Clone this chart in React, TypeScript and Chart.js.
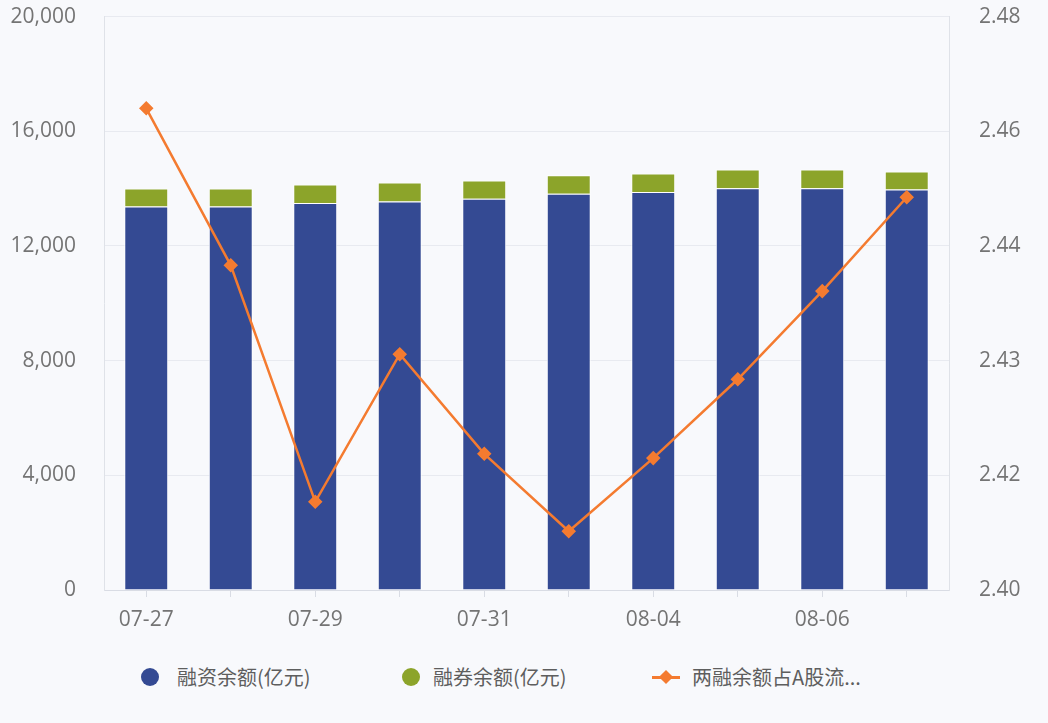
import React, { useEffect, useRef } from "react";
import { Chart, registerables } from "chart.js";

Chart.register(...registerables);

const categories = ["07-27", "07-28", "07-29", "07-30", "07-31", "08-03", "08-04", "08-05", "08-06", "08-07"];
const financing = [13380, 13380, 13495, 13554, 13648, 13822, 13878, 14017, 14017, 13972];
const securities = [627, 627, 651, 662, 638, 648, 652, 652, 652, 627];
const ratio = [2.4672, 2.4453, 2.4123, 2.4329, 2.419, 2.4082, 2.4184, 2.4294, 2.4417, 2.4548];
const rightTickLabels = ["2.40", "2.42", "2.43", "2.44", "2.46", "2.48"];
const seriesNames = ["融资余额(亿元)", "融券余额(亿元)", "两融余额占A股流..."];

const BLUE = "#344a93";
const GREEN = "#8ca42a";
const ORANGE = "#f47b30";
const BG = "#f8f9fc";
const TICK = "#747474";
const FONT = "'Open Sans', 'Noto Sans CJK SC', sans-serif";

export default function App() {
  const ref = useRef<HTMLCanvasElement | null>(null);

  useEffect(() => {
    if (!ref.current) return;
    const chart = new Chart(ref.current, {
      type: "bar",
      data: {
        labels: categories,
        datasets: [
          {
            type: "line",
            label: seriesNames[2],
            data: ratio,
            yAxisID: "y1",
            borderColor: ORANGE,
            backgroundColor: ORANGE,
            borderWidth: 2.5,
            pointStyle: "rectRot",
            pointRadius: 5.5,
            pointBackgroundColor: ORANGE,
            pointBorderColor: ORANGE,
            tension: 0,
            order: 0,
          } as any,
          {
            label: seriesNames[0],
            data: financing,
            backgroundColor: BLUE,
            borderColor: "rgba(255,255,255,0.9)",
            borderWidth: 1,
            yAxisID: "y",
            stack: "s",
            order: 1,
          },
          {
            label: seriesNames[1],
            data: securities,
            backgroundColor: GREEN,
            borderColor: "rgba(255,255,255,0.9)",
            borderWidth: 1,
            yAxisID: "y",
            stack: "s",
            order: 1,
          },
        ],
      },
      options: {
        animation: false,
        responsive: false,
        maintainAspectRatio: false,
        layout: { padding: { top: 0, left: 0, right: 0, bottom: 0 } },
        plugins: {
          legend: { display: false },
          tooltip: { enabled: false },
        },
        datasets: {
          bar: { barPercentage: 0.52, categoryPercentage: 1 },
        },
        scales: {
          x: {
            stacked: true,
            grid: {
              display: true,
              drawOnChartArea: false,
              drawTicks: true,
              tickLength: 7,
              offset: false,
              color: "#d9dce4",
            },
            border: { display: true, color: "#d9dce4" },
            ticks: {
              autoSkip: false,
              maxRotation: 0,
              padding: 10,
              color: TICK,
              font: { family: FONT, size: 21 },
              callback: (_v: any, i: number) => (i % 2 === 0 ? categories[i] : ""),
            },
            afterFit: (s: any) => {
              s.height = 55;
            },
          },
          y: {
            stacked: true,
            min: 0,
            max: 20000,
            position: "left",
            grid: { color: "#e8eaf0", drawTicks: false },
            border: { display: true, color: "#dfe2e8" },
            ticks: {
              stepSize: 4000,
              padding: 28,
              color: TICK,
              font: { family: FONT, size: 21 },
              callback: (v: any) => Number(v).toLocaleString("en-US"),
            },
            afterFit: (s: any) => {
              s.width = 104;
            },
          },
          y1: {
            min: 2.4,
            max: 2.48,
            position: "right",
            grid: { drawOnChartArea: false, drawTicks: false },
            border: { display: true, color: "#dfe2e8" },
            afterBuildTicks: (s: any) => {
              s.ticks = [0, 1, 2, 3, 4, 5].map((i) => ({ value: 2.4 + i * 0.016 }));
            },
            ticks: {
              padding: 30,
              color: TICK,
              font: { family: FONT, size: 21 },
              callback: (_v: any, i: number) => rightTickLabels[i],
            },
            afterFit: (s: any) => {
              s.width = 99;
            },
          },
        },
      } as any,
    });
    return () => chart.destroy();
  }, []);

  const textStyle: React.CSSProperties = {
    position: "absolute",
    top: 664,
    fontFamily: "'Noto Sans CJK SC', sans-serif",
    fontSize: 20,
    lineHeight: "26px",
    color: "#5e5e5e",
    whiteSpace: "nowrap",
  };

  return (
    <div
      style={{
        position: "fixed",
        left: 0,
        top: 0,
        width: 1048,
        height: 723,
        background: BG,
        overflow: "hidden",
      }}
    >
      <canvas ref={ref} width={1048} height={671} style={{ position: "absolute", left: 0, top: -26, width: 1048, height: 671 }} />
      <div style={{ position: "absolute", left: 141, top: 668, width: 18, height: 18, borderRadius: "50%", background: BLUE }} />
      <div style={{ ...textStyle, left: 177 }}>{seriesNames[0]}</div>
      <div style={{ position: "absolute", left: 402, top: 668, width: 18, height: 18, borderRadius: "50%", background: GREEN }} />
      <div style={{ ...textStyle, left: 433 }}>{seriesNames[1]}</div>
      <div style={{ position: "absolute", left: 652, top: 676, width: 28, height: 3, background: ORANGE }} />
      <div
        style={{
          position: "absolute",
          left: 661,
          top: 672,
          width: 10,
          height: 10,
          background: ORANGE,
          transform: "rotate(45deg)",
        }}
      />
      <div style={{ ...textStyle, left: 692 }}>{seriesNames[2]}</div>
    </div>
  );
}
